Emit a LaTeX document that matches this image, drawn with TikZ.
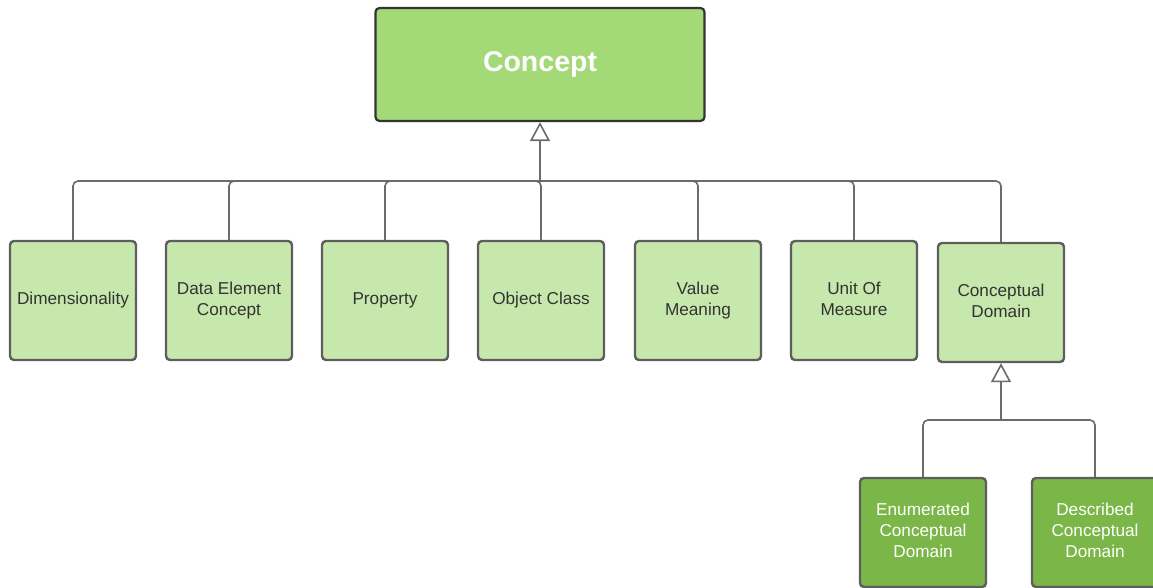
\documentclass[tikz,border=0pt]{standalone}
\usepackage{fontspec}
\setmainfont{Liberation Sans}
\usetikzlibrary{arrows.meta}
\definecolor{topfill}{HTML}{A3D977}
\definecolor{lightfill}{HTML}{C7E8AC}
\definecolor{darkfill}{HTML}{7AB648}
\definecolor{boxline}{HTML}{5E5E5E}
\definecolor{topline}{HTML}{333333}
\definecolor{txt}{HTML}{333333}
\definecolor{wire}{HTML}{6B6B6B}
\tikzset{
  box/.style={draw=boxline, line width=2.4pt, rounded corners=4pt, fill=lightfill,
    minimum width=126pt, minimum height=119pt, inner sep=0pt, align=center,
    text=txt, font=\fontsize{17.2}{21}\selectfont,
    execute at end node=\vphantom{g}},
  topbox/.style={box, draw=topline, line width=2.2pt, fill=topfill, text=white,
    minimum width=329pt, minimum height=113pt, font=\fontsize{28.5}{32}\selectfont\bfseries},
  subbox/.style={box, fill=darkfill, text=white, minimum height=109pt},
  wirestyle/.style={draw=wire, line width=1.6pt, rounded corners=5pt},
  genarrow/.style={draw=wire, line width=1.6pt,
    -{Triangle[open, length=19pt, width=20pt, line width=1.6pt]}}
}
\begin{document}
\begin{tikzpicture}[x=1pt, y=-1pt]
\useasboundingbox (0,0) rectangle (1153,588);

% root and first level
\node[topbox] (concept) at (540,64.5) {Concept};
\node[box] (dim) at (73,300.5) {Dimensionality};
\node[box] (dec) at (229,300.5) {Data Element\\Concept};
\node[box] (prop) at (385,300.5) {Property};
\node[box] (oc) at (541,300.5) {Object Class};
\node[box] (vm) at (698,300.5) {Value\\Meaning};
\node[box] (uom) at (854,300.5) {Unit Of\\Measure};
\node[box] (cd) at (1001,302.5) {Conceptual\\Domain};

% second level
\node[subbox] (ecd) at (923,532.5) {Enumerated\\Conceptual\\Domain};
\node[subbox] (dcd) at (1095,532.5) {Described\\Conceptual\\Domain};

% generalisation to Concept
\coordinate (j1) at (540,181);
\draw[genarrow] (j1) -- (concept.south);
\foreach \c in {dim,dec,prop,oc,vm,uom,cd}
  \draw[wirestyle] (\c.north) |- (j1);

% generalisation to Conceptual Domain
\coordinate (j2) at (1001,420);
\draw[genarrow] (j2) -- (cd.south);
\foreach \c in {ecd,dcd}
  \draw[wirestyle] (\c.north) |- (j2);
\end{tikzpicture}
\end{document}
